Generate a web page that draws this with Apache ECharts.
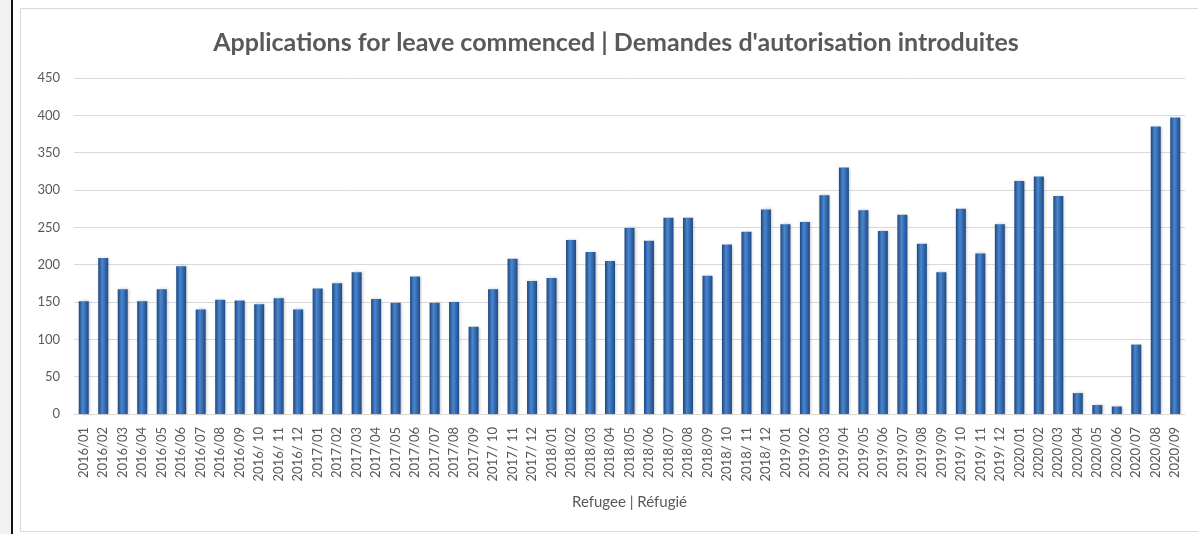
<!DOCTYPE html>
<html>
<head>
<meta charset="utf-8">
<script src="https://cdn.jsdelivr.net/npm/echarts@6/dist/echarts.min.js"></script>
<style>
  html, body { margin: 0; padding: 0; background: #ffffff; }
  #chart { width: 1198px; height: 534px; }
</style>
</head>
<body>
<div id="chart"></div>
<script>
// Monthly applications for leave commenced (refugee stream)
const months = [
  '2016/01','2016/02','2016/03','2016/04','2016/05','2016/06','2016/07','2016/08','2016/09','2016/ 10','2016/ 11','2016/ 12',
  '2017/01','2017/02','2017/03','2017/04','2017/05','2017/06','2017/07','2017/08','2017/09','2017/ 10','2017/ 11','2017/ 12',
  '2018/01','2018/02','2018/03','2018/04','2018/05','2018/06','2018/07','2018/08','2018/09','2018/ 10','2018/ 11','2018/ 12',
  '2019/01','2019/02','2019/03','2019/04','2019/05','2019/06','2019/07','2019/08','2019/09','2019/ 10','2019/ 11','2019/ 12',
  '2020/01','2020/02','2020/03','2020/04','2020/05','2020/06','2020/07','2020/08','2020/09'
];
const applications = [
  151, 209, 167, 151, 167, 198, 140, 153, 152, 147, 155, 140,
  168, 175, 190, 154, 149, 184, 149, 150, 117, 167, 208, 178,
  182, 233, 217, 205, 249, 232, 263, 263, 185, 227, 244, 274,
  254, 257, 293, 330, 273, 245, 267, 228, 190, 275, 215, 254,
  312, 318, 292, 28, 12, 10, 93, 385, 397
];
const titleText = "Applications for leave commenced | Demandes d'autorisation introduites";
const axisTitle = 'Refugee | Réfugié';

const chart = echarts.init(document.getElementById('chart'), null, { renderer: 'canvas' });
const grey = '#595959';

chart.setOption({
  animation: false,
  backgroundColor: '#ffffff',
  title: {
    text: titleText,
    left: 611,
    textAlign: 'center',
    top: 25,
    textStyle: { fontFamily: 'Lato', fontWeight: 'bold', fontSize: 25, color: grey }
  },
  graphic: [
    { type: 'rect', shape: { x: 0, y: 0, width: 11, height: 534 }, style: { fill: '#f1f1f1' }, silent: true },
    { type: 'rect', shape: { x: 11, y: 0, width: 2, height: 534 }, style: { fill: '#111111' }, silent: true },
    { type: 'rect', shape: { x: 20.5, y: 8.5, width: 1200, height: 523 }, style: { fill: 'none', stroke: '#d9d9d9', lineWidth: 1 }, silent: true }
  ],
  grid: { left: 74, right: 13, top: 78, bottom: 120, containLabel: false },
  xAxis: {
    type: 'category',
    data: months,
    name: axisTitle,
    nameLocation: 'middle',
    nameGap: 81,
    nameTextStyle: { fontFamily: 'Lato', fontSize: 15, color: grey },
    axisLine: { lineStyle: { color: '#d9d9d9', width: 1 } },
    axisTick: { show: false },
    axisLabel: { rotate: 90, interval: 0, margin: 13, fontFamily: 'Lato', fontSize: 13, color: grey }
  },
  yAxis: {
    type: 'value',
    min: 0, max: 450, interval: 50,
    axisLine: { show: false },
    axisTick: { show: false },
    axisLabel: { margin: 14, fontFamily: 'Lato', fontSize: 13, color: grey },
    splitLine: { lineStyle: { color: '#d9d9d9', width: 1 } }
  },
  series: [{
    type: 'bar',
    data: applications,
    barWidth: 10,
    itemStyle: {
      color: new echarts.graphic.LinearGradient(0, 0, 1, 0, [
        { offset: 0, color: '#1c477f' },
        { offset: 0.4, color: '#4a86cf' },
        { offset: 1, color: '#1d4a86' }
      ]),
      shadowColor: 'rgba(0,0,0,0.25)',
      shadowBlur: 3,
      shadowOffsetX: 1,
      shadowOffsetY: 0
    }
  }]
});
</script>
</body>
</html>
